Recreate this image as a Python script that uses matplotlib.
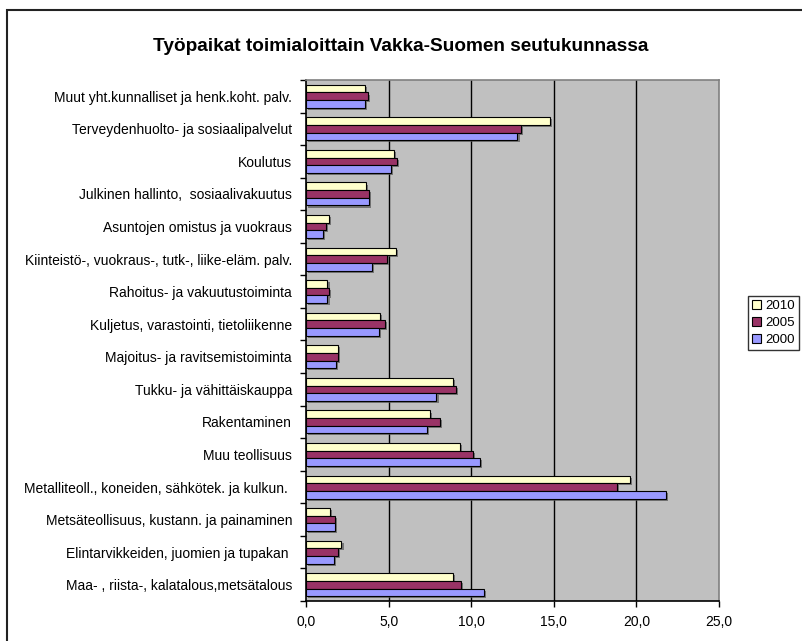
import numpy as np
import matplotlib.pyplot as plt
import matplotlib.patheffects as pe
from matplotlib.patches import Rectangle, Patch
from matplotlib.ticker import FixedLocator, FuncFormatter

plt.rcParams['font.family'] = ['Liberation Sans', 'DejaVu Sans']

# toimialat alhaalta ylös
toimialat = [
    "Maa- , riista-, kalatalous,metsätalous",
    "Elintarvikkeiden, juomien ja tupakan ",
    "Metsäteollisuus, kustann. ja painaminen",
    "Metalliteoll., koneiden, sähkötek. ja kulkun. ",
    "Muu teollisuus",
    "Rakentaminen",
    "Tukku- ja vähittäiskauppa",
    "Majoitus- ja ravitsemistoiminta",
    "Kuljetus, varastointi, tietoliikenne",
    "Rahoitus- ja vakuutustoiminta",
    "Kiinteistö-, vuokraus-, tutk-, liike-eläm. palv.",
    "Asuntojen omistus ja vuokraus",
    "Julkinen hallinto,  sosiaalivakuutus",
    "Koulutus",
    "Terveydenhuolto- ja sosiaalipalvelut",
    "Muut yht.kunnalliset ja henk.koht. palv.",
]

v2010 = [8.9, 2.15, 1.45, 19.6, 9.3, 7.5, 8.9, 1.95, 4.5, 1.3, 5.45, 1.4, 3.65, 5.3, 14.75, 3.55]
v2005 = [9.4, 1.95, 1.75, 18.85, 10.1, 8.1, 9.1, 1.95, 4.8, 1.4, 4.9, 1.2, 3.8, 5.5, 13.0, 3.75]
v2000 = [10.75, 1.7, 1.75, 21.8, 10.55, 7.35, 7.9, 1.8, 4.4, 1.3, 4.0, 1.05, 3.8, 5.15, 12.8, 3.55]

vuodet = ["2010", "2005", "2000"]
varit = ["#FFFFCC", "#993366", "#9999FF"]

fig = plt.figure(figsize=(8.02, 6.41), dpi=100)
ax = fig.add_axes([0.3815, 0.0624, 0.515, 0.8128])
ax.set_facecolor("#C0C0C0")

y = np.arange(len(toimialat))
h = 0.235
varjo = [pe.SimplePatchShadow(offset=(1.5, -1.5), shadow_rgbFace="#555555", alpha=0.7), pe.Normal()]
for arvot, vari, siirto in zip([v2010, v2005, v2000], varit, [h, 0, -h]):
    ax.barh(y + siirto, arvot, height=h, color=vari, edgecolor="black", linewidth=0.8,
            path_effects=varjo, zorder=3)

ax.set_xlim(0, 25)
ax.set_ylim(-0.5, len(toimialat) - 0.5)
ax.set_xticks(np.arange(0, 26, 5))
ax.xaxis.set_major_formatter(FuncFormatter(lambda v, p: f"{v:.1f}".replace(".", ",")))
ax.set_yticks(y)
ax.set_yticklabels(toimialat)
ax.yaxis.set_minor_locator(FixedLocator(np.arange(-0.5, len(toimialat), 1)))
ax.tick_params(axis="y", which="major", length=0, pad=10, labelsize=10)
ax.tick_params(axis="y", which="minor", length=4, width=1, color="black")
ax.tick_params(axis="x", length=4, width=1, color="black", labelsize=10, pad=6)

for gx in [5, 10, 15, 20]:
    ax.axvline(gx, color="black", linewidth=1.0, zorder=1)

for s in ["top", "right"]:
    ax.spines[s].set_color("#808080")
    ax.spines[s].set_linewidth(1.2)
for s in ["left", "bottom"]:
    ax.spines[s].set_color("black")
    ax.spines[s].set_linewidth(1.2)

fig.text(0.499, 0.928, "Työpaikat toimialoittain Vakka-Suomen seutukunnassa",
         ha="center", va="center", fontsize=13.7, fontweight="bold")

kahvat = [Patch(facecolor=c, edgecolor="black", linewidth=0.8) for c in varit]
fig.legend(kahvat, vuodet, loc="upper left", bbox_to_anchor=(0.9327, 0.538),
           frameon=True, fancybox=False, edgecolor="black", fontsize=9.5,
           handlelength=0.7, handleheight=0.7, handletextpad=0.3,
           borderpad=0.3, labelspacing=0.35, borderaxespad=0)

# kaavion reunus
fig.patches.append(Rectangle((0.0087, -0.05), 1.1, 1.034, transform=fig.transFigure,
                             fill=False, edgecolor="#222222", linewidth=1.5))

fig.savefig("out.png", dpi=100)
